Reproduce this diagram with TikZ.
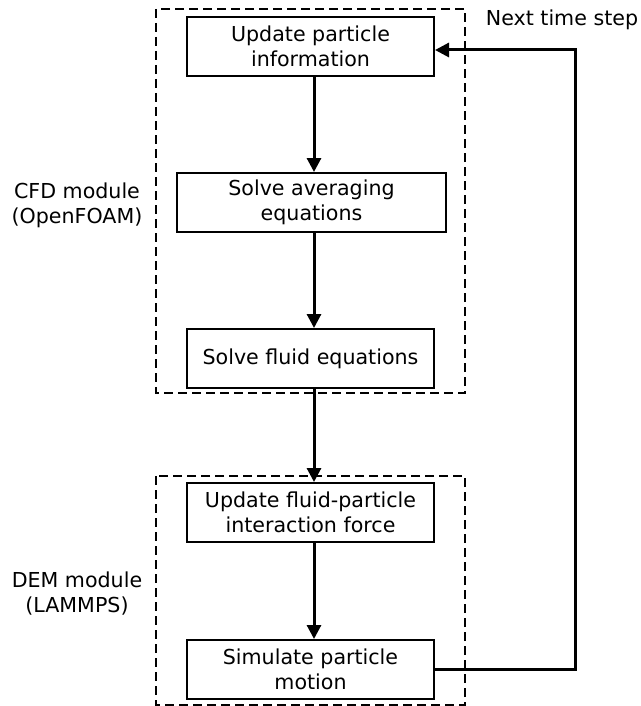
\documentclass[tikz,border=0pt]{standalone}
\usepackage{fontspec}
\setmainfont{DejaVu Sans}
\usetikzlibrary{arrows.meta}

\begin{document}
\begin{tikzpicture}[x=0.5pt,y=-0.5pt]
\tikzstyle{stepbox}=[draw,line width=1pt,minimum width=123.5pt,minimum height=29.5pt,inner sep=0pt,align=center,font=\fontsize{10.3}{12.5}\selectfont]
\tikzstyle{flow}=[line width=1.5pt,-{Triangle[length=7pt,width=7pt]}]
\tikzstyle{module}=[line width=0.65pt,dash pattern=on 4.5pt off 2.5pt]
\tikzstyle{txt}=[align=center,font=\fontsize{10.3}{12.5}\selectfont]

\useasboundingbox (0,0) rectangle (641,706);

% CFD part
\draw [module] (156,9) rectangle (465,393);
\node [stepbox] (upd) at (310.5,46.5) {Update particle\\information};
\node [stepbox,minimum width=134.5pt] (avg) at (311.5,202.5) {Solve averaging\\equations};
\node [stepbox] (fluid) at (310.5,358.5) {Solve fluid equations};
\node [txt] (cfd) at (77,205) {CFD module\\(OpenFOAM)};

% DEM part
\draw [module] (156,476) rectangle (465,705);
\node [stepbox] (force) at (310.5,512.5) {Update fluid-particle\\interaction force};
\node [stepbox] (sim) at (310.5,669.5) {Simulate particle\\motion};
\node [txt] (dem) at (77,594) {DEM module\\(LAMMPS)};

\coordinate (spine) at (314,0);
\foreach \a/\b in {upd/avg,avg/fluid,fluid/force,force/sim}
{
    \draw [flow] (\a.south -| spine) -- (\b.north -| spine);
}

% back to the top
\coordinate (back) at (575,50);
\draw [flow] (sim.east) -| (back) -- (upd.east |- back);
\node [txt] (next) at (562,20) {Next time step};
\end{tikzpicture}
\end{document}
